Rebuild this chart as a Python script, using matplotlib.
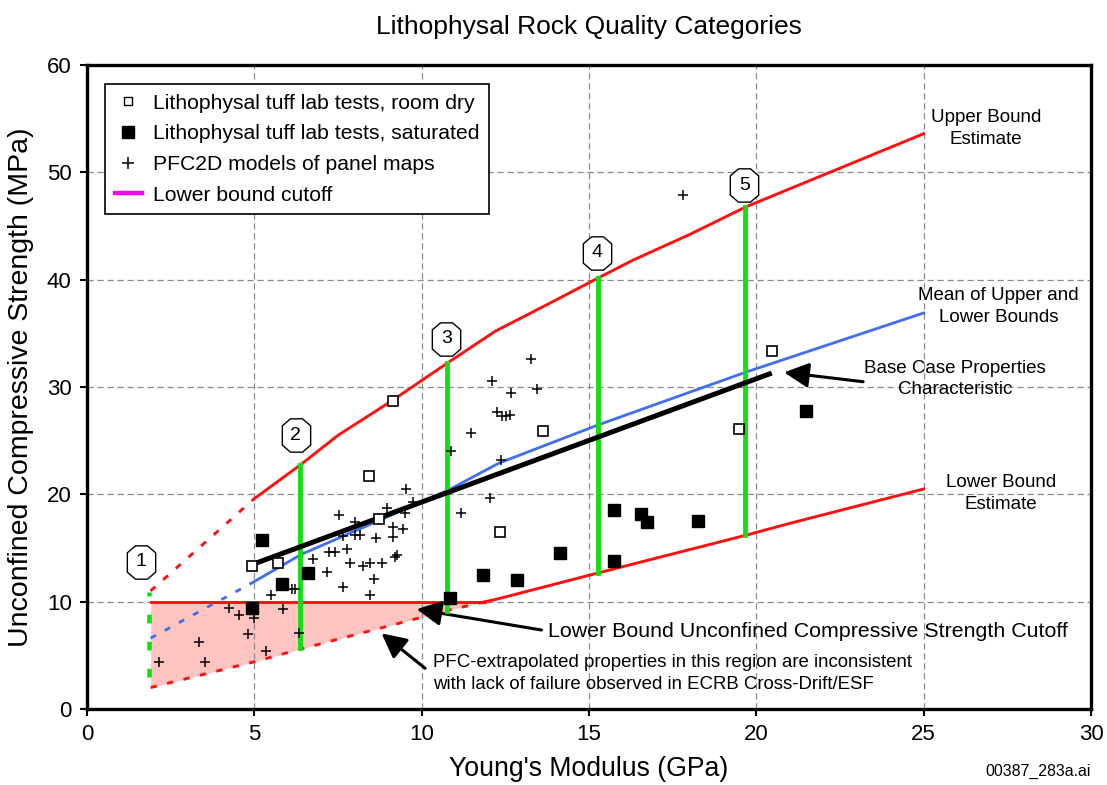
import numpy as np
import matplotlib
matplotlib.use("Agg")
import matplotlib.pyplot as plt
from matplotlib.lines import Line2D

plt.rcParams['font.family'] = ['Liberation Sans', 'DejaVu Sans']

# --- data ---
dry_E = [4.92, 5.72, 8.44, 8.73, 9.13, 12.34, 13.63, 19.47, 20.47]
dry_S = [13.3, 13.6, 21.7, 17.7, 28.7, 16.5, 25.9, 26.1, 33.4]

sat_E = [4.92, 5.22, 5.82, 6.61, 10.85, 11.84, 12.84, 14.13, 15.75, 15.75, 16.54, 16.74, 18.26, 21.48]
sat_S = [9.4, 15.7, 11.65, 12.7, 10.35, 12.45, 12.0, 14.5, 18.55, 13.8, 18.2, 17.4, 17.5, 27.8]

pfc_E = [2.16, 3.35, 3.53, 4.24, 4.55, 4.8, 5.0, 5.35, 5.5, 5.85, 6.12, 6.21, 6.34,
         6.74, 7.18, 7.24, 7.41, 7.53, 7.64, 7.66, 7.76, 7.86, 8.01, 8.01, 8.16, 8.26,
         8.46, 8.46, 8.58, 8.63, 8.8, 8.95, 9.15, 9.15, 9.2, 9.25, 9.45, 9.5, 9.53, 9.75,
         10.87, 11.16, 11.46, 12.04, 12.11, 12.24, 12.39, 12.52, 12.64, 12.36, 12.67,
         13.27, 13.46, 17.8]
pfc_S = [4.35, 6.2, 4.4, 9.44, 8.8, 6.96, 8.45, 5.4, 10.6, 9.3, 11.15, 11.15, 7.1,
         14.0, 12.8, 14.65, 14.65, 18.05, 11.4, 16.1, 14.9, 13.6, 17.4, 16.2, 16.2, 13.3,
         13.6, 10.6, 12.1, 15.9, 13.6, 18.7, 17.0, 16.06, 14.2, 14.35, 16.75, 18.3, 20.5, 19.3,
         24.0, 18.3, 25.75, 19.7, 30.6, 27.7, 27.3, 27.3, 27.4, 23.2, 29.4,
         32.6, 29.8, 47.9]

upper_E = [5.0, 6.4, 7.5, 9.1, 10.8, 12.2, 13.7, 15.3, 16.3, 18.0, 19.7, 25.0]
upper_S = [19.6, 22.8, 25.5, 28.7, 32.3, 35.2, 37.6, 40.2, 41.8, 44.2, 46.8, 53.6]
upper_ext_E = [1.9, 5.0]
upper_ext_S = [11.0, 19.6]

lower_E = [11.9, 12.2, 15.3, 19.7, 21.0, 25.0]
lower_S = [10.0, 10.2, 12.7, 16.2, 17.3, 20.5]
lower_ext_E = [1.9, 5.0, 6.4, 10.8, 11.9]
lower_ext_S = [2.0, 4.4, 5.6, 9.2, 10.0]

mean_E = [4.9, 6.4, 8.75, 10.8, 12.3, 15.3, 19.7, 25.0]
mean_S = [11.7, 14.4, 17.6, 20.4, 22.9, 26.5, 31.4, 36.9]
mean_ext_E = [1.9, 4.9]
mean_ext_S = [6.6, 11.7]

base_E = [4.97, 20.46]
base_S = [13.5, 31.3]

cutoff_E = [1.9, 11.9]
cutoff_S = [10.0, 10.0]

# category dividers: x, bottom, top
cat_E = [1.86, 6.36, 10.77, 15.28, 19.66]
cat_lo = [3.0, 5.7, 9.1, 12.7, 16.2]
cat_hi = [10.9, 22.7, 32.2, 40.2, 46.8]
cat_lbl = ['1', '2', '3', '4', '5']
cat_lbl_E = [1.62, 6.23, 10.74, 15.24, 19.64]
cat_lbl_S = [13.7, 25.5, 34.5, 42.5, 48.8]

fig = plt.figure(figsize=(11.07, 7.85), dpi=100)
ax = fig.add_axes([0.0786, 0.0968, 0.907, 0.8204])

ax.set_xlim(0, 30)
ax.set_ylim(0, 60)
ax.set_xticks(range(0, 31, 5))
ax.set_yticks(range(0, 61, 10))
ax.set_axisbelow(True)
ax.grid(True, color='#8a8a8a', linestyle=(0, (5, 3)), linewidth=0.9)
for s in ax.spines.values():
    s.set_linewidth(2.4)
ax.tick_params(direction='out', length=5, width=1.5, labelsize=16, pad=6)

red = '#ff1010'
blue = '#3f6ff0'
green = '#10e010'
dash_red = (0, (2.2, 3.6))

# shaded region
ax.fill_between(lower_ext_E, lower_ext_S, 10.0, color='#ffc4c0', zorder=0.4, lw=0)

# bounds
ax.plot(upper_E, upper_S, color=red, lw=2.1, zorder=3)
ax.plot(upper_ext_E, upper_ext_S, color=red, lw=2.1, ls=dash_red, zorder=3)
ax.plot(lower_E, lower_S, color=red, lw=2.1, zorder=3)
ax.plot(lower_ext_E, lower_ext_S, color=red, lw=2.1, ls=dash_red, zorder=3)
ax.plot(cutoff_E, cutoff_S, color=red, lw=2.1, zorder=3)
ax.plot(mean_E, mean_S, color=blue, lw=2.0, zorder=3)
ax.plot(mean_ext_E, mean_ext_S, color=blue, lw=2.0, ls=dash_red, zorder=3)

# category dividers
for i in range(len(cat_E)):
    if i == 0:
        ax.plot([cat_E[i], cat_E[i]], [cat_lo[i], cat_hi[i]], color=green, lw=3.3,
                ls=(0, (1.9, 4.0)), zorder=3.5)
    else:
        ax.plot([cat_E[i], cat_E[i]], [cat_lo[i], cat_hi[i]], color=green, lw=3.5, zorder=3.5)

ax.plot(base_E, base_S, color='black', lw=3.6, zorder=4, solid_capstyle='butt')

# data
ax.plot(pfc_E, pfc_S, '+', color='black', ms=7.5, mew=1.1, zorder=5)
ax.plot(dry_E, dry_S, 's', mfc='white', mec='black', ms=7.5, mew=1.2, zorder=5)
ax.plot(sat_E, sat_S, 's', color='black', ms=8, zorder=5)

# octagon labels
octo = [(-0.36, 1), (0.36, 1), (0.85, 0.58), (0.85, -0.58), (0.36, -1), (-0.36, -1),
        (-0.85, -0.58), (-0.85, 0.58), (-0.36, 1)]
ax.plot(cat_lbl_E, cat_lbl_S, ls='none', marker=octo, ms=24, mfc='white', mec='black',
        mew=1.0, zorder=6)
for i in range(len(cat_lbl)):
    ax.text(cat_lbl_E[i], cat_lbl_S[i], cat_lbl[i], ha='center', va='center',
            fontsize=14, zorder=7)

# annotations
arrow = dict(arrowstyle='-|>,head_length=0.75,head_width=0.38', color='black',
             lw=2.2, mutation_scale=20, shrinkA=0, shrinkB=0)
ax.text(26.86, 54.1, 'Upper Bound\nEstimate', ha='center', va='center', fontsize=13.5,
        linespacing=1.35)
ax.text(27.24, 37.5, 'Mean of Upper and\nLower Bounds', ha='center', va='center',
        fontsize=13.5, linespacing=1.35)
ax.text(27.3, 20.1, 'Lower Bound\nEstimate', ha='center', va='center', fontsize=13.5,
        linespacing=1.35)
ax.text(25.93, 30.75, 'Base Case Properties\nCharacteristic', ha='center', va='center',
        fontsize=13.5, linespacing=1.35)
ax.annotate('', xy=(20.83, 31.37), xytext=(23.19, 30.49), arrowprops=arrow)

ax.text(13.76, 7.18, 'Lower Bound Unconfined Compressive Strength Cutoff', ha='left',
        va='center', fontsize=15.4)
ax.annotate('', xy=(9.85, 9.3), xytext=(13.58, 7.36), arrowprops=arrow)

ax.text(10.34, 3.3, 'PFC-extrapolated properties in this region are inconsistent\n'
        'with lack of failure observed in ECRB Cross-Drift/ESF', ha='left', va='center',
        fontsize=13.4, linespacing=1.4)
ax.annotate('', xy=(8.8, 7.05), xytext=(10.1, 3.8), arrowprops=arrow)

# legend
handles = [
    Line2D([], [], ls='none', marker='s', mfc='white', mec='black', ms=5.5, mew=1.0),
    Line2D([], [], ls='none', marker='s', color='black', ms=8),
    Line2D([], [], ls='none', marker='+', color='black', ms=8, mew=1.1),
    Line2D([], [], color='#ff00ff', lw=3.2),
]
labels = ['Lithophysal tuff lab tests, room dry',
          'Lithophysal tuff lab tests, saturated',
          'PFC2D models of panel maps',
          'Lower bound cutoff']
leg = ax.legend(handles, labels, loc='upper left', bbox_to_anchor=(0.018, 0.970),
                borderaxespad=0, fontsize=15.2, frameon=True, fancybox=False,
                edgecolor='black', framealpha=1, labelspacing=0.55, handlelength=1.3,
                handletextpad=0.5, borderpad=0.45)
leg.get_frame().set_linewidth(1.2)
leg.set_zorder(10)

ax.set_title('Lithophysal Rock Quality Categories', fontsize=19, pad=22)
ax.set_xlabel("Young's Modulus (GPa)", fontsize=19.2, labelpad=8)
ax.set_ylabel('Unconfined Compressive Strength (MPa)', fontsize=20.5, labelpad=9)

fig.text(0.985, 1 - 771 / 785, '00387_283a.ai', ha='right', va='center', fontsize=11.4)

fig.savefig('out.png', dpi=100)
